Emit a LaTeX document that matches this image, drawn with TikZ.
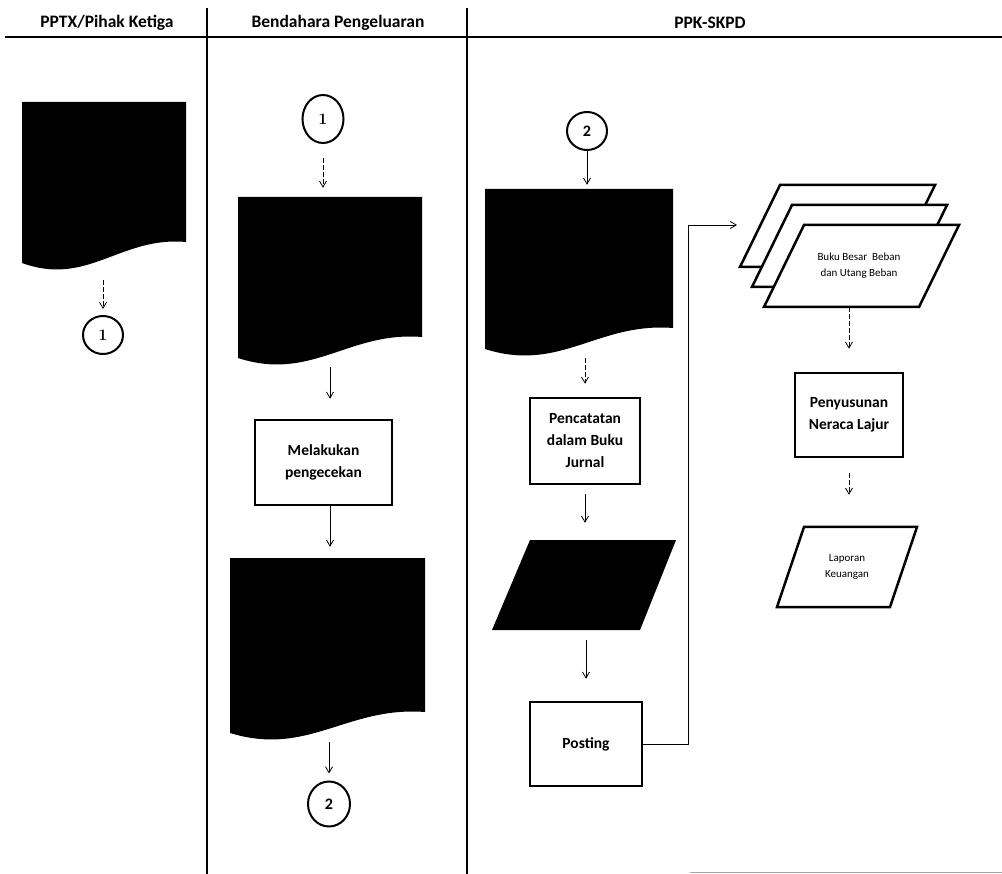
\documentclass[tikz,border=0pt]{standalone}
\usepackage{fontspec}
\newfontfamily\carl{Carlito}
\usetikzlibrary{arrows.meta,shapes.geometric,calc}
\tikzset{
  lane/.style={line width=1.6pt},
  head/.style={font=\carl\bfseries\fontsize{17.5}{20}\selectfont, anchor=center},
  conn/.style={draw,line width=2pt,ellipse, inner sep=0pt},
  proc/.style={rectangle,draw,line width=2.5pt,align=center,inner sep=2pt,
               font=\carl\bfseries\fontsize{15.5}{22}\selectfont},
  hold/.style={rectangle,inner sep=0pt,draw=none},
  arr/.style={line width=0.8pt,-{Straight Barb[length=6pt,width=7pt]}},
  darr/.style={arr,dash pattern=on 5pt off 2pt},
  para/.style={line width=2.5pt,fill=white,line join=miter},
  small/.style={font=\carl\fontsize{11}{16}\selectfont,align=center}
}
% document shape: L T R B (B = lowest point)
\newcommand\docshape[4]{%
  \fill (#1,#2) -- (#3,#2) -- (#3,{#4-30})
    .. controls ({#3-0.4*(#3-#1)},{#4-36}) and ({#1+0.4*(#3-#1)},{#4+15}) .. (#1,{#4-9}) -- cycle;}
\begin{document}
\begin{tikzpicture}[x=1pt,y=-1pt]
\useasboundingbox (0,0) rectangle (1002,874);
% lanes
\draw[lane] (5,37) -- (1002,37);
\draw[lane] (207,8) -- (207,874);
\draw[lane] (467,8) -- (467,874);
\draw[line width=1pt,gray!70] (690,872) -- (1002,872);
\node[head] (h1) at (107,23) {PPTX/Pihak Ketiga};
\node[head] (h2) at (338,23) {Bendahara Pengeluaran};
\node[head] (h3) at (710,23) {PPK-SKPD};

% documents
\docshape{22}{102}{186}{272}
\node[hold,minimum width=164,minimum height=170] (d1) at (104,187) {};
\docshape{238}{197}{422}{367}
\node[hold,minimum width=184,minimum height=170] (d2) at (330,282) {};
\docshape{230}{558}{425}{742}
\node[hold,minimum width=195,minimum height=184] (d3) at (327.5,650) {};
\docshape{485}{189}{673}{358}
\node[hold,minimum width=188,minimum height=169] (d4) at (579,273.5) {};

% connectors (circles)
\node[conn,minimum width=40,minimum height=38,font=\bfseries\fontsize{16}{18}\selectfont] (c1a) at (103,335) {1};
\node[conn,minimum width=41,minimum height=48,font=\bfseries\fontsize{16}{18}\selectfont] (c1b) at (323,119) {1};
\node[conn,minimum width=42,minimum height=45,font=\carl\bfseries\fontsize{16}{18}\selectfont] (c2a) at (329,804) {2};
\node[conn,minimum width=40,minimum height=38,font=\carl\bfseries\fontsize{16}{18}\selectfont] (c2b) at (587,131) {2};

% process boxes
\node[proc,minimum width=137,minimum height=85] (melakukan) at (323.5,462.5) {Melakukan\\pengecekan};
\node[proc,minimum width=110,minimum height=86] (pencatatan) at (585,441) {Pencatatan\\dalam Buku\\Jurnal};
\node[proc,minimum width=112,minimum height=84] (posting) at (586,744) {Posting};
\node[proc,minimum width=108,minimum height=84] (penyusunan) at (849,415) {Penyusunan\\Neraca Lajur};

% black parallelogram
\fill (530,540) -- (676,540) -- (640,630) -- (492,630) -- cycle;
\node[hold,minimum width=184,minimum height=90] (jurnal) at (584,585) {};

% stacked parallelograms
\draw[para] (780,185) -- (935,185) -- (895,267) -- (740,267) -- cycle;
\draw[para] (792,205) -- (947,205) -- (907,287) -- (752,287) -- cycle;
\draw[para] (804,225) -- (959,225) -- (919,307) -- (764,307) -- cycle;
\node[hold,small,minimum width=195,minimum height=82] (buku) at (859,266) {Buku Besar~ Beban\\dan Utang Beban};

% laporan
\draw[para] (804,527) -- (917,527) -- (890,607) -- (777,607) -- cycle;
\node[hold,small,minimum width=140,minimum height=80] (laporan) at (847,567) {Laporan\\Keuangan};

% arrows
\draw[darr,shorten <=8pt,shorten >=6pt] (d1.south -| c1a.north) -- (c1a.north);
\draw[darr,shorten <=14pt,shorten >=9pt] (c1b.south) -- (c1b.south |- d2.north);
\draw[arr,shorten >=20pt] (d2.south) -- (d2.south |- melakukan.north);
\draw[arr,shorten >=11pt] (melakukan.south -| d2.south) -- (d2.south |- d3.north);
\draw[arr,shorten >=7pt] (c2a.north |- d3.south) -- (c2a.north);
\draw[arr,shorten >=4pt] (c2b.south) -- (c2b.south |- d4.north);
\draw[darr,shorten >=13pt] (d4.south -| pencatatan.north) -- (pencatatan.north);
\draw[arr,shorten <=9pt,shorten >=17pt] (pencatatan.south) -- (pencatatan.south |- jurnal.north);
\draw[arr,shorten <=10pt,shorten >=22pt] (jurnal.south -| posting.north) -- (posting.north);
\coordinate (bend) at (688,225);
\coordinate (bukuin) at (737,225);
\draw[arr] (posting.east) -| (bend) -- (bukuin);
\draw[darr,shorten >=23pt] (buku.south -| penyusunan.north) -- (penyusunan.north);
\draw[darr,shorten <=15pt,shorten >=32pt] (penyusunan.south) -- (penyusunan.south |- laporan.north);
\end{tikzpicture}
\end{document}
